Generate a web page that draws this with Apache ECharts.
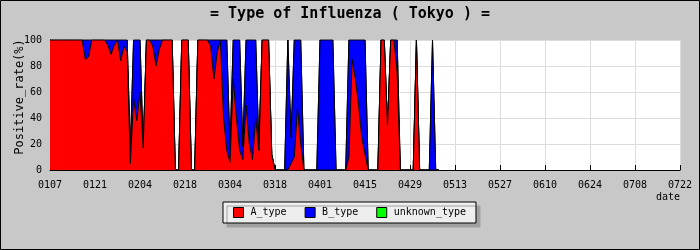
<!DOCTYPE html>
<html><head><meta charset="utf-8">
<script src="https://cdn.jsdelivr.net/npm/echarts@6/dist/echarts.min.js"></script>
<style>html,body{margin:0;padding:0;background:#c8c8c8}#c{width:700px;height:250px}</style>
</head><body><div id="c"></div>
<script>
// Daily dates from 0107 to 0722 (non-leap year)
const dateCategories = [];
for (let i = 0; i <= 196; i++) {
  const d = new Date(2009, 0, 7 + i);
  dateCategories.push(String(d.getMonth() + 1).padStart(2, '0') + String(d.getDate()).padStart(2, '0'));
}
const seriesNames = ['A_type', 'B_type', 'unknown_type'];
// Positive rate (%) per day, starting 0107 (one row per 7 days)
const aType = [
  100,100,100,100,100,100,100,
  100,100,100,100,85,87,100,
  100,100,100,100,96,89,96,
  100,84,95,91,5,55,38,
  60,17,100,100,95,80,93,
  100,100,100,100,0,0,100,
  100,100,0,0,100,100,100,
  100,95,70,90,100,40,15,
  6,70,40,15,8,50,20,
  8,40,15,100,100,100,12,
  0,0,0,0,0,5,10,
  48,20,0,0,0,0,0,
  0,0,0,0,0,0,0,
  0,0,10,85,70,50,25,
  12,0,0,0,0,100,100,
  34,100,100,75,0,0,0,
  0,0,100,0,0,0,0,
  0,0,0
];
const bType = [
  0,0,0,0,0,0,0,
  0,0,0,0,15,13,0,
  0,0,0,0,4,11,4,
  0,16,5,9,11,45,62,
  40,0,0,0,5,20,7,
  0,0,0,0,0,0,0,
  0,0,0,0,0,0,0,
  0,5,30,10,0,60,85,
  10,30,60,85,10,50,80,
  92,60,3,0,0,0,0,
  0,0,0,0,100,20,90,
  52,80,0,0,0,0,0,
  100,100,100,100,100,0,0,
  0,0,90,15,30,50,75,
  88,0,0,0,0,0,0,
  0,0,0,25,0,0,0,
  0,0,0,0,0,0,0,
  100,0,0
];
const unknownType = [
  0,0,0,0,0,0,0, 0,0,0,0,0,0,0, 0,0,0,0,0,0,0, 0,0,0,0,0,0,0,
  0,0,0,0,0,0,0, 0,0,0,0,0,0,0, 0,0,0,0,0,0,0, 0,0,0,0,0,0,0,
  0,0,0,0,0,0,0, 0,0,0,0,0,0,0, 0,0,0,0,0,0,0, 0,0,0,0,0,0,0,
  0,0,0,0,0,0,0, 0,0,0,0,0,0,0, 0,0,0,0,0,0,0, 0,0,0,0,0,0,0,
  0,0,0,0,0,0,0, 0,0,0
];
const yTicks = { min: 0, max: 100, step: 20 };

const mono = 'DejaVu Sans Mono';
function areaSeries(name, color, values, z) {
  return {
    name, type: 'line', stack: 'total', data: values, z,
    symbol: 'none', showSymbol: false, sampling: null,
    itemStyle: { color },
    areaStyle: { color, opacity: 1 },
    lineStyle: { color: '#000', width: 1 },
    emphasis: { disabled: true }
  };
}

const chart = echarts.init(document.getElementById('c'));
chart.setOption({
  animation: false,
  backgroundColor: '#c8c8c8',
  title: {
    text: '= Type of Influenza ( Tokyo ) =',
    left: 'center', top: 2,
    textStyle: { fontFamily: mono, fontSize: 15, fontWeight: 'bold', color: '#000' }
  },
  grid: { left: 50, top: 40, width: 630, height: 130, show: true, backgroundColor: '#fff', borderWidth: 0 },
  legend: {
    data: seriesNames,
    left: 223, top: 202,
    padding: [5, 10, 5, 10],
    itemGap: 18, itemWidth: 10, itemHeight: 10,
    icon: 'rect',
    itemStyle: { borderColor: '#000', borderWidth: 1 },
    textStyle: { fontFamily: mono, fontSize: 10, color: '#000', padding: [0, 0, 0, 2] },
    backgroundColor: '#eeeeee', borderColor: '#000', borderWidth: 1,
    shadowColor: '#a0a0a0', shadowBlur: 0, shadowOffsetX: 4, shadowOffsetY: 4,
    selectedMode: false
  },
  xAxis: {
    type: 'category', data: dateCategories, boundaryGap: false,
    axisLine: { lineStyle: { color: '#000', width: 1 } },
    axisTick: { inside: true, length: 5, interval: 13, lineStyle: { color: '#000' } },
    axisLabel: { interval: 13, margin: 10, fontFamily: mono, fontSize: 10, color: '#000' },
    splitLine: { show: true, interval: 13, lineStyle: { color: '#dcdcdc', width: 1 } }
  },
  yAxis: {
    type: 'value', min: yTicks.min, max: yTicks.max, interval: yTicks.step,
    axisLine: { show: true, lineStyle: { color: '#000', width: 1 } },
    axisTick: { show: true, inside: true, length: 3, lineStyle: { color: '#000' } },
    minorTick: { show: true, splitNumber: 2, length: 3, lineStyle: { color: '#000' } },
    axisLabel: { margin: 8, fontFamily: mono, fontSize: 10, color: '#000' },
    splitLine: { show: true, lineStyle: { color: '#dcdcdc', width: 1 } }
  },
  graphic: [
    { type: 'rect', shape: { x: 0.5, y: 0.5, width: 699, height: 249 }, style: { fill: null, stroke: '#000', lineWidth: 1 }, silent: true, z: 100 },
    { type: 'text', x: 20, y: 97, rotation: Math.PI / 2,
      style: { text: 'Positive_rate(%)', font: '12px "DejaVu Sans Mono"', fill: '#000', align: 'center', verticalAlign: 'middle' } },
    { type: 'text', x: 680, y: 197,
      style: { text: 'date', font: '10px "DejaVu Sans Mono"', fill: '#000', align: 'right', verticalAlign: 'middle' } }
  ],
  series: [
    areaSeries(seriesNames[0], '#ff0000', aType, 4),
    areaSeries(seriesNames[1], '#0000ff', bType, 3),
    areaSeries(seriesNames[2], '#00ff00', unknownType, 2)
  ]
});
</script>
</body></html>
